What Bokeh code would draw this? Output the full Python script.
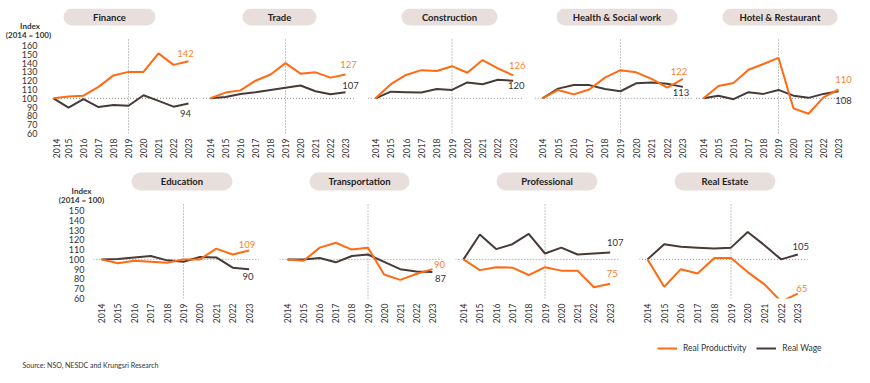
import math
from bokeh.plotting import figure
from bokeh.layouts import column, row
from bokeh.models import FixedTicker, Label, Legend, LegendItem, Range1d
from bokeh.embed import file_html
from bokeh.resources import INLINE
from bokeh.core.properties import value

# ---------------- data ----------------
YEARS = [2014, 2015, 2016, 2017, 2018, 2019, 2020, 2021, 2022, 2023]
YEAR_LABELS = ["2014", "2015", "2016", "2017", "2018", "2019", "2020", "2021", "2022", "2023"]
TOP_TICKS = [60, 70, 80, 90, 100, 110, 120, 130, 140, 150, 160]
BOTTOM_TICKS = [60, 70, 80, 90, 100, 110, 120, 130, 140, 150]
BASE = 100
REF_YEAR = 2019
SERIES_NAMES = ["Real Productivity", "Real Wage"]
INDEX_TEXT = ["Index", "(2014 = 100)"]
SOURCE = "Source: NSO, NESDC and Krungsri Research"

TOP_SECTORS = ["Finance", "Trade", "Construction", "Health & Social work", "Hotel & Restaurant"]
BOTTOM_SECTORS = ["Education", "Transportation", "Professional", "Real Estate"]

finance_prod = [100, 102, 103, 113, 126, 130, 130, 151, 138, 142]
finance_wage = [100, 89.5, 99, 90, 92.5, 91.5, 103.5, 97, 90.5, 94]
trade_prod = [100, 106.5, 109, 120, 127, 140, 128, 129.5, 123.5, 127]
trade_wage = [100, 101.5, 105, 107, 109.5, 112, 114.5, 108, 104.5, 107]
construction_prod = [100, 116, 126.5, 132, 131, 136.5, 129, 143.5, 134, 126]
construction_wage = [100, 107.5, 107, 106.5, 110.5, 109.5, 118, 116, 121, 120]
health_prod = [100, 109.5, 104.5, 110, 123.5, 132, 129.5, 122, 112, 122]
health_wage = [100, 111, 115, 115, 110.5, 108, 117, 118, 116.5, 113]
hotel_prod = [100, 114, 117.5, 132.5, 139, 146, 88.5, 82.5, 101, 110]
hotel_wage = [100, 103, 99, 107, 105, 109.5, 103, 100.5, 105, 108]
education_prod = [100, 96, 98.5, 97.5, 96.5, 100, 100, 111, 105, 109]
education_wage = [100, 100.5, 102, 103.5, 99, 97.5, 102.5, 102, 91.5, 90]
transport_prod = [100, 98.5, 112, 117, 110, 112, 84.5, 79, 85, 90]
transport_wage = [100, 100, 101.5, 97, 103.5, 105, 97.5, 90, 87.5, 87]
professional_prod = [100, 89, 92, 91.5, 84, 92, 88.5, 88.5, 71.5, 75]
professional_wage = [100, 125.5, 110.5, 115.5, 126, 106, 112, 105, 106, 107]
realestate_prod = [100, 72, 90, 85.5, 101.5, 101.5, 87, 74.5, 57, 65]
realestate_wage = [100, 115.5, 113, 112, 111, 112, 128, 114.5, 100, 105]

TOP_PROD = [finance_prod, trade_prod, construction_prod, health_prod, hotel_prod]
TOP_WAGE = [finance_wage, trade_wage, construction_wage, health_wage, hotel_wage]
BOTTOM_PROD = [education_prod, transport_prod, professional_prod, realestate_prod]
BOTTOM_WAGE = [education_wage, transport_wage, professional_wage, realestate_wage]

# ---------------- style / layout ----------------
ORANGE = "#FF6A13"
ORANGE_TXT = "#FF7F2A"
BROWN = "#473A37"
PILL = "#E8DEDC"
TXT = "#333333"
DOT = "#8C8C8C"
FONT = "Lato"
PAGE_RIGHT = 862

TOP_CFG = dict(pos=[53, 210, 375, 542, 703], ppy=[15, 15, 15.3, 15.6, 15],
               left=[52, 202, 367, 534, 695], ftop=8, fh=125, pxu=0.88, bb=35, bt=8,
               ticks=TOP_TICKS, vtop=168, hl=(-0.5, 0.65), axis_in_first=False,
               pills=[(63, 155), (242, 316), (401, 497), (556, 677), (722, 837)], pill_y=(8, 25),
               idx=[(29.5, 25.5), (28, 34.5)],
               off_p=[(-3, -8), (3, -10), (4, -10), (-4, -7), (5, -10)],
               off_w=[(-3, 10), (5, -7), (3, 5), (-2, 6), (5, 9)])
BOT_CFG = dict(pos=[99, 285, 461, 645], ppy=[16.4, 16.1, 16.3, 16.7],
               left=[91, 277, 453, 637], ftop=168, fh=130, pxu=0.978, bb=32, bt=0,
               ticks=BOTTOM_TICKS, vtop=158, hl=(-0.5, 0.6), axis_in_first=True,
               pills=[(129, 230), (307, 407), (494, 595), (672, 773)], pill_y=(172, 190),
               idx=[(79, 190.5), (79, 199.5)],
               off_p=[(-2, -6), (7, -5), (2, -10), (4, -5)],
               off_w=[(-1, 7), (8, 6), (5, -10), (3, -8)])


def style_yaxis(ya, ticks, standoff):
    ya.ticker = FixedTicker(ticks=ticks)
    ya.axis_line_color = None
    ya.major_tick_out = 0
    ya.major_tick_in = 0
    ya.minor_tick_out = 0
    ya.minor_tick_in = 0
    ya.major_label_standoff = standoff
    ya.major_label_text_font = FONT
    ya.major_label_text_font_size = "9px"
    ya.major_label_text_color = TXT


def index_label(x, y, t):
    return Label(x=x, y=y, text=t, text_align="center", text_baseline="middle",
                 text_font=FONT, text_font_style="bold", text_font_size="8px", text_color=TXT)


def make_axis_fig(cfg):
    # narrow figure carrying the shared y axis and the "Index" caption of the top row
    fr_left, fr_right = 45, cfg["left"][0]
    y0 = cfg["ticks"][0]
    y1 = y0 + cfg["fh"] / cfg["pxu"]
    fy = lambda py: y1 - (py - cfg["ftop"]) / cfg["pxu"]
    p = figure(frame_width=fr_right - fr_left, frame_height=cfg["fh"],
               x_range=Range1d(fr_left, fr_right), y_range=Range1d(y0, y1),
               output_backend="svg", toolbar_location=None, title=None,
               min_border_left=fr_left, min_border_right=0, min_border_top=cfg["bt"],
               min_border_bottom=cfg["bb"])
    p.outline_line_color = None
    p.xaxis.visible = False
    p.xgrid.visible = False
    p.ygrid.visible = False
    style_yaxis(p.yaxis[0], cfg["ticks"], 8)
    for k, t in enumerate(INDEX_TEXT):
        ix, iy = cfg["idx"][k]
        p.add_layout(index_label(ix, fy(iy), t), "below")
    return p


def make_panel(name, prod, wage, cfg, i):
    n = len(cfg["left"])
    left = cfg["left"][i]
    right = cfg["left"][i + 1] if i + 1 < n else PAGE_RIGHT
    w = right - left
    ppy = cfg["ppy"][i]
    x0 = YEARS[0] - (cfg["pos"][i] - left) / ppy
    x1 = x0 + w / ppy
    y0 = cfg["ticks"][0]
    y1 = y0 + cfg["fh"] / cfg["pxu"]
    fx = lambda px: x0 + (px - left) / ppy
    fy = lambda py: y1 - (py - cfg["ftop"]) / cfg["pxu"]

    with_axis = (i == 0) and cfg["axis_in_first"]
    p = figure(frame_width=w, frame_height=cfg["fh"], x_range=Range1d(x0, x1), y_range=Range1d(y0, y1),
               output_backend="svg", toolbar_location=None, title=None,
               min_border_left=left if with_axis else 0, min_border_right=0,
               min_border_top=cfg["bt"], min_border_bottom=cfg["bb"])
    p.outline_line_color = None
    p.background_fill_color = "white"
    p.border_fill_color = "white"
    p.xgrid.visible = False
    p.ygrid.visible = False

    xa = p.xaxis[0]
    xa.ticker = FixedTicker(ticks=YEARS)
    xa.major_label_overrides = {y: s for y, s in zip(YEARS, YEAR_LABELS)}
    xa.major_label_orientation = math.pi / 2
    xa.axis_line_color = None
    xa.major_tick_out = 0
    xa.major_tick_in = 0
    xa.minor_tick_out = 0
    xa.minor_tick_in = 0
    xa.major_label_standoff = 5
    xa.major_label_text_font = FONT
    xa.major_label_text_font_size = "8.5px"
    xa.major_label_text_color = TXT

    if with_axis:
        style_yaxis(p.yaxis[0], cfg["ticks"], 9)
        for k, t in enumerate(INDEX_TEXT):
            ix, iy = cfg["idx"][k]
            p.add_layout(index_label(fx(ix), fy(iy), t), "left")
    else:
        p.yaxis.visible = False

    # reference lines
    p.segment(x0=[YEARS[0] + cfg["hl"][0]], y0=[BASE], x1=[YEARS[-1] + cfg["hl"][1]], y1=[BASE],
              line_color=DOT, line_width=1, line_dash="1 2")
    p.segment(x0=[REF_YEAR], y0=[cfg["ticks"][0]], x1=[REF_YEAR], y1=[cfg["vtop"]],
              line_color=DOT, line_width=1, line_dash="1 2")

    # title pill
    pl, pr = cfg["pills"][i]
    pt, pb = cfg["pill_y"]
    p.quad(left=[fx(pl)], right=[fx(pr)], top=[fy(pt)], bottom=[fy(pb)], fill_color=PILL,
           line_color=None, border_radius=9)
    p.text(x=[fx((pl + pr) / 2)], y=[fy((pt + pb) / 2)], text=[name], text_align="center",
           text_baseline="middle", text_font=value(FONT), text_font_style="bold",
           text_font_size="9.5px", text_color="#222222")

    # series
    p.line(YEARS, wage, line_color=BROWN, line_width=2)
    p.line(YEARS, prod, line_color=ORANGE, line_width=2)

    dxp, dyp = cfg["off_p"][i]
    dxw, dyw = cfg["off_w"][i]
    p.text(x=[YEARS[-1]], y=[prod[-1]], text=[f"{prod[-1]:.0f}"], x_offset=dxp, y_offset=dyp,
           text_align="center", text_baseline="middle", text_font=value(FONT),
           text_font_size="9.5px", text_color=ORANGE_TXT)
    p.text(x=[YEARS[-1]], y=[wage[-1]], text=[f"{wage[-1]:.0f}"], x_offset=dxw, y_offset=dyw,
           text_align="center", text_baseline="middle", text_font=value(FONT),
           text_font_size="9.5px", text_color=TXT)
    return p


top = [make_axis_fig(TOP_CFG)] + [make_panel(n, a, b, TOP_CFG, i)
                                  for i, (n, a, b) in enumerate(zip(TOP_SECTORS, TOP_PROD, TOP_WAGE))]
bot = [make_panel(n, a, b, BOT_CFG, i) for i, (n, a, b) in enumerate(zip(BOTTOM_SECTORS, BOTTOM_PROD, BOTTOM_WAGE))]

# legend / source strip
lf = figure(frame_width=PAGE_RIGHT, frame_height=45, x_range=Range1d(0, PAGE_RIGHT), y_range=Range1d(0, 45),
            output_backend="svg", toolbar_location=None, title=None,
            min_border_left=0, min_border_right=0, min_border_top=0, min_border_bottom=0)
lf.outline_line_color = None
lf.xaxis.visible = False
lf.yaxis.visible = False
lf.xgrid.visible = False
lf.ygrid.visible = False
nan = float("nan")
r1 = lf.line([nan], [nan], line_color=ORANGE, line_width=2)
r2 = lf.line([nan], [nan], line_color=BROWN, line_width=2)
leg = Legend(items=[LegendItem(label=SERIES_NAMES[0], renderers=[r1]),
                    LegendItem(label=SERIES_NAMES[1], renderers=[r2])],
             orientation="horizontal", location=(657, 22), padding=0, margin=0,
             glyph_width=20, glyph_height=10, label_height=10, label_standoff=6, spacing=10,
             label_text_font=FONT, label_text_font_size="8.5px", label_text_color=TXT,
             border_line_color=None, background_fill_alpha=0)
lf.add_layout(leg)
lf.add_layout(Label(x=22, y=11, text=SOURCE, text_baseline="middle", text_font=FONT,
                    text_font_size="7px", text_color=TXT))

layout = column(row(*top, spacing=0), row(*bot, spacing=0), lf, spacing=0)
open("out.html", "w").write(file_html(layout, INLINE))
